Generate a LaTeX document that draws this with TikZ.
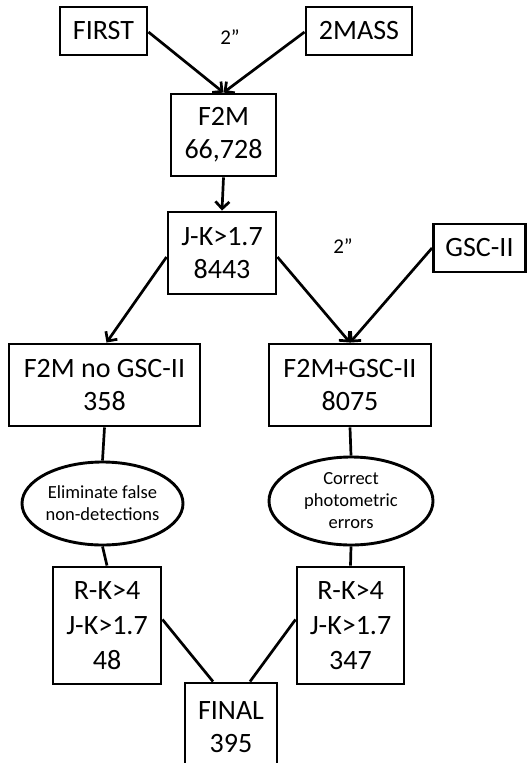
\documentclass[tikz,border=0pt]{standalone}
\usepackage{fontspec}
\setmainfont{Carlito}
\usetikzlibrary{arrows.meta,shapes.geometric}
\begin{document}
\begin{tikzpicture}[x=1pt,y=-1pt,
  box/.style={draw,line width=2.9pt,rectangle,inner sep=0pt,align=center,font=\fontsize{28}{33}\selectfont},
  tallbox/.style={box,font=\fontsize{28}{35}\selectfont},
  oval/.style={draw,line width=2.9pt,ellipse,inner sep=0pt,align=center,font=\fontsize{18.5}{22}\selectfont},
  conn/.style={line width=2.7pt},
  arr/.style={conn,-{Straight Barb[length=7pt,width=14pt,line width=2.7pt]}},
  lbl/.style={font=\fontsize{21}{24}\selectfont,inner sep=0pt}]
\useasboundingbox (0,0) rectangle (527,763);
\begin{scope}
\clip (0,0) rectangle (527,763);
\node[box,minimum width=87pt,minimum height=48pt] (first) at (103.5,31) {FIRST};
\node[box,minimum width=106pt,minimum height=48pt] (mass) at (359,31) {2MASS};
\node[lbl] (l1) at (230,37) {2”};
\node[box,minimum width=105pt,minimum height=82pt] (f2m) at (223.5,135) {F2M\\66,728};
\node[box,minimum width=108pt,minimum height=82pt] (jk) at (222,253) {J-K>1.7\\8443};
\node[lbl] (l2) at (343,246) {2”};
\node[box,minimum width=92pt,minimum height=48pt] (gsc) at (479.5,248) {GSC-II};
\node[box,minimum width=191pt,minimum height=82pt] (nog) at (104.5,385) {F2M no GSC-II\\358};
\node[box,minimum width=162pt,minimum height=82pt] (plg) at (350,385) {F2M+GSC-II\\8075};
\node[oval,minimum width=161pt,minimum height=83pt] (e1) at (102.5,503.5) {Eliminate false\\non-detections};
\node[oval,minimum width=164pt,minimum height=88pt] (e2) at (351,501) {Correct\\photometric\\errors};
\node[tallbox,minimum width=108pt,minimum height=117pt] (rk1) at (107,625.5) {R-K>4\\J-K>1.7\\48};
\node[tallbox,minimum width=107pt,minimum height=117pt] (rk2) at (350.5,625.5) {R-K>4\\J-K>1.7\\347};
\node[box,minimum width=92pt,minimum height=88pt] (fin) at (231,727) {FINAL\\395};

\draw[arr] ([yshift=-1pt]first.east) -- (f2m.north);
\draw[arr] ([yshift=-1pt]mass.west) -- (f2m.north);
\draw[arr] (f2m.south) -- (jk.north);
\draw[arr] ([yshift=-4pt]jk.west) -- ([xshift=2pt]nog.north);
\draw[arr] ([yshift=-4pt]jk.east) -- (plg.north);
\draw[arr] (gsc.west) -- (plg.north);
\draw[conn] (nog.south) -- (e1.north);
\draw[conn] (plg.south) -- (e2.north);
\draw[conn] (e1.south) -- (rk1.north);
\draw[conn] (e2.south) -- (rk2.north);
\draw[conn] ([yshift=6pt]rk1.east) -- ([xshift=-18pt]fin.north);
\draw[conn] ([yshift=6pt]rk2.west) -- ([xshift=19pt]fin.north);
\end{scope}
\end{tikzpicture}
\end{document}
